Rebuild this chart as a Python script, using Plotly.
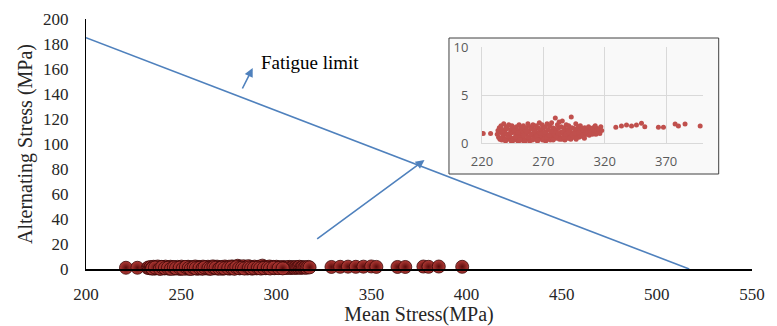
import plotly.graph_objects as go

# ---------------- data ----------------
# Fatigue-limit (Goodman) line end points: mean stress, alternating stress
limit_mean = [200, 517]
limit_alt = [185, 0]

# measured points: mean stress (MPa) and alternating stress (MPa)
left_mean = [221, 227]
left_alt = [1.0, 1.0]

cluster_mean = [
    232.4, 233.0, 233.5, 234.1, 234.6, 235.0, 235.5, 236.1, 236.6, 237.2,
    237.7, 238.1, 238.6, 239.2, 239.8, 240.3, 240.7, 241.2, 241.8, 242.3,
    242.9, 243.4, 243.8, 244.4, 245.0, 245.5, 245.9, 246.4, 247.0, 247.6,
    248.1, 248.5, 249.0, 249.6, 250.2, 250.7, 251.1, 251.6, 252.2, 252.8,
    253.3, 253.7, 254.2, 254.8, 255.4, 255.9, 256.3, 256.8, 257.4, 258.0,
    258.5, 258.9, 259.4, 260.0, 260.6, 261.1, 261.5, 262.0, 262.6, 263.2,
    263.7, 264.1, 264.6, 265.2, 265.8, 266.3, 266.7, 267.2, 267.8, 268.4,
    268.9, 269.3, 269.8, 270.4, 271.0, 271.5, 271.9, 272.4, 273.0, 273.6,
    274.1, 274.5, 275.0, 275.6, 276.2, 276.7, 277.1, 277.6, 278.2, 278.8,
    279.3, 279.7, 280.2, 280.8, 281.4, 281.9, 282.3, 282.8, 283.4, 284.0,
    284.5, 284.9, 285.4, 286.0, 286.6, 287.1, 287.5, 288.0, 288.6, 289.2,
    289.7, 290.1, 290.6, 291.2, 291.8, 292.3, 292.7, 293.2, 293.8, 294.4,
    294.9, 295.3, 295.8, 296.4, 297.0, 297.5, 297.9, 298.4, 299.0, 299.6,
    300.1, 300.5, 301.0, 301.6, 302.2, 302.7, 303.1, 303.6, 304.2, 304.8,
    305.3, 305.7, 306.2, 306.8, 307.4, 307.9, 308.3, 308.8, 309.4, 310.0,
    310.5, 311.0, 311.6, 312.2, 312.8, 313.4, 314.0, 314.7, 315.3, 316.0, 316.8, 317.5,
    234.8, 236.3, 238.9, 240.0, 241.5, 243.1, 244.7, 246.2, 247.3, 249.3,
    250.9, 252.5, 254.0, 255.1, 256.6, 257.7, 259.7, 261.3, 262.3, 264.4,
    265.5, 267.0, 268.1, 270.1, 271.2, 272.7, 274.8, 276.4, 277.9, 279.0,
    280.5, 282.0, 283.1, 285.7, 286.8, 288.3, 290.4, 291.5, 293.5, 295.6,
    296.7, 298.7, 301.3, 303.4,
]
cluster_alt = [
    0.9, 1.3, 0.6, 1.6, 0.4, 1.1, 1.8, 0.3, 1.4, 0.8,
    2.0, 0.5, 1.2, 0.2, 1.7, 0.9, 1.5, 0.4, 1.9, 1.0,
    0.6, 1.4, 0.2, 1.8, 1.1, 0.5, 1.6, 0.3, 1.2, 0.8,
    1.7, 0.4, 1.3, 0.1, 1.9, 0.7, 1.0, 1.5, 0.3, 1.2,
    0.6, 1.8, 0.2, 1.4, 0.9, 1.6, 0.4, 1.1, 2.0, 0.5,
    1.3, 0.2, 1.7, 0.8, 1.5, 0.3, 1.9, 1.0, 0.6, 1.4,
    0.4, 1.8, 1.1, 0.2, 1.6, 0.9, 2.1, 0.5, 1.3, 0.7,
    1.9, 0.3, 1.5, 1.0, 0.6, 1.7, 0.2, 1.2, 2.0, 0.8,
    1.4, 0.5, 1.8, 0.3, 1.1, 2.1, 0.7, 1.6, 0.4, 1.3,
    0.9, 2.6, 1.2, 0.5, 1.9, 0.8, 1.5, 2.2, 0.6, 1.1,
    1.7, 0.4, 2.3, 1.0, 0.7, 1.6, 0.3, 1.3, 1.9, 0.9,
    0.5, 1.4, 1.8, 0.8, 1.2, 0.4, 2.7, 1.6, 1.0, 0.6,
    1.5, 0.9, 1.2, 2.0, 0.7, 1.4, 1.0, 1.7, 0.6, 1.3,
    1.8, 0.8, 1.1, 1.5, 0.9, 1.3, 0.7, 1.6, 1.0, 1.2,
    0.9, 1.4, 1.1, 1.7, 0.8, 1.3, 1.0, 1.5, 1.2, 0.9,
    1.6, 1.0, 1.3, 1.8, 0.9, 1.2, 1.5, 1.1, 1.4, 1.0, 1.7, 1.3,
    0.5, 1.2, 0.3, 1.5, 0.7, 1.0, 0.2, 1.3, 0.6, 1.1,
    0.3, 1.6, 0.8, 0.1, 1.2, 0.6, 0.9, 0.4, 1.3, 0.7,
    0.3, 1.4, 1.0, 0.4, 1.1, 0.6, 0.8, 1.2, 0.3, 1.5,
    0.7, 1.0, 0.4, 1.2, 0.6, 0.9, 1.1, 0.5, 0.8, 1.0,
    0.4, 1.1, 0.7, 0.5,
]

right_mean = [329, 333.6, 337.7, 341.8, 345.8, 349.9, 352.6, 363.7, 367.8, 377.3, 380, 385.4, 397.7]
right_alt = [1.63, 1.77, 1.87, 1.77, 1.87, 2.05, 1.7, 1.63, 1.63, 1.98, 1.77, 1.98, 1.77]

main_x_ticks = [200, 250, 300, 350, 400, 450, 500, 550]
main_y_ticks = [0, 20, 40, 60, 80, 100, 120, 140, 160, 180, 200]
inset_x_ticks = [220, 270, 320, 370]
inset_y_ticks = [0, 5, 10]

all_mean = left_mean + cluster_mean + right_mean
all_alt = left_alt + cluster_alt + right_alt

# ---------------- figure ----------------
SERIF = "Liberation Serif, Times New Roman, serif"
SANS = "Open Sans, Liberation Sans, sans-serif"
BLUE = "#4f81bd"

fig = go.Figure()

fig.add_trace(go.Scatter(
    x=limit_mean, y=limit_alt, mode="lines",
    line=dict(color=BLUE, width=1.6), showlegend=False, hoverinfo="skip",
    xaxis="x", yaxis="y",
))

fig.add_trace(go.Scatter(
    x=all_mean, y=all_alt, mode="markers", cliponaxis=False,
    marker=dict(size=13, color="#b23a35",
                gradient=dict(type="radial", color="#5a0c0c"),
                line=dict(color="#3a0505", width=0.8)),
    showlegend=False, xaxis="x", yaxis="y",
))

fig.add_trace(go.Scatter(
    x=all_mean, y=all_alt, mode="markers",
    marker=dict(size=5, color="#c0504d"),
    showlegend=False, xaxis="x2", yaxis="y2",
))

# inset frame
fig.add_shape(type="rect", xref="paper", yref="paper",
              x0=0.545, x1=0.950, y0=0.38, y1=0.924,
              fillcolor="#f9f9f9", line=dict(color="#404040", width=1),
              layer="below")

# annotations
fig.add_annotation(x=290.8, y=165.6, xref="x", yref="y", text="Fatigue limit",
                   showarrow=False, xanchor="left", yanchor="middle",
                   font=dict(family=SERIF, size=19, color="#000000"))
fig.add_annotation(x=287.6, y=160.8, ax=281.8, ay=143.2, xref="x", yref="y",
                   axref="x", ayref="y", text="", showarrow=True,
                   arrowhead=2, arrowsize=1.1, arrowwidth=1.6, arrowcolor=BLUE)
fig.add_annotation(x=377.9, y=87.2, ax=320.7, ay=23.2, xref="x", yref="y",
                   axref="x", ayref="y", text="", showarrow=True,
                   arrowhead=2, arrowsize=1.1, arrowwidth=1.6, arrowcolor=BLUE)

# the page body adds an 8px offset, so the figure is 8px smaller on each axis
fig.update_layout(
    width=769, height=318,
    margin=dict(l=78, r=25, t=11, b=57),
    paper_bgcolor="white", plot_bgcolor="rgba(0,0,0,0)",
    showlegend=False,
    xaxis=dict(
        range=[200, 550], tickvals=main_x_ticks, showgrid=False, zeroline=False,
        showline=True, linecolor="#000000", linewidth=2, automargin=False,
        ticks="outside", ticklen=9, tickcolor="rgba(0,0,0,0)",
        tickfont=dict(family=SERIF, size=17, color="#262626"),
        title=dict(text="Mean Stress(MPa)", standoff=2,
                   font=dict(family=SERIF, size=20, color="#262626")),
    ),
    yaxis=dict(
        range=[0, 200], tickvals=main_y_ticks, showgrid=False, zeroline=False,
        showline=True, linecolor="#000000", linewidth=1, automargin=False,
        ticks="outside", ticklen=13, tickcolor="rgba(0,0,0,0)",
        tickfont=dict(family=SERIF, size=17, color="#262626"),
        title=dict(text="Alternating Stress (MPa)", standoff=5,
                   font=dict(family=SERIF, size=20, color="#262626")),
    ),
    xaxis2=dict(
        domain=[0.5946, 0.9264], anchor="y2", range=[220, 400], automargin=False,
        tickvals=inset_x_ticks, showgrid=True, gridcolor="#d9d9d9", gridwidth=1,
        zeroline=False, showline=True, linecolor="#d9d9d9",
        ticks="outside", ticklen=6, tickcolor="rgba(0,0,0,0)",
        tickfont=dict(family=SANS, size=13, color="#595959"),
    ),
    yaxis2=dict(
        domain=[0.504, 0.888], anchor="x2", range=[0, 10], automargin=False,
        tickvals=inset_y_ticks, showgrid=True, gridcolor="#d9d9d9", gridwidth=1,
        zeroline=False, showline=True, linecolor="#d9d9d9",
        ticks="outside", ticklen=10, tickcolor="rgba(0,0,0,0)",
        tickfont=dict(family=SANS, size=13, color="#595959"),
    ),
)

fig.write_html("out.html")
